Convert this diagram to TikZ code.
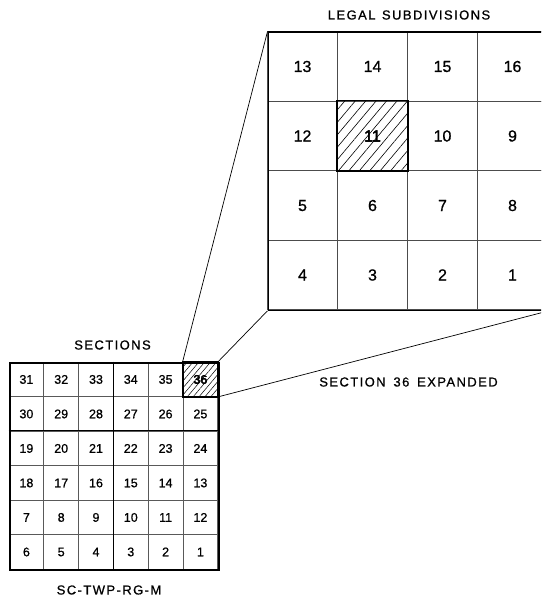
\documentclass[tikz,border=0pt]{standalone}
\usepackage{fontspec}
\usetikzlibrary{patterns.meta}
\newfontfamily\cadfont[FakeBold=0.8]{Liberation Sans}
\newfontfamily\cadwide[LetterSpace=11,FakeBold=0.8]{Liberation Sans}
\tikzset{
  scell/.style={draw=black!65, line width=0.7pt, minimum width=34.8pt, minimum height=34.5pt,
    inner sep=0pt, text height=9pt, text depth=0pt, font=\cadfont\fontsize{12.5}{12.5}\selectfont},
  bcell/.style={draw=black!70, line width=0.8pt, minimum width=70pt, minimum height=69.5pt,
    inner sep=0pt, text height=11.5pt, text depth=0pt, font=\cadfont\fontsize{16}{16}\selectfont},
  frame/.style={draw=black, line width=1.8pt, inner sep=0pt},
  bigframe/.style={draw=black, line width=1.3pt, inner sep=0pt},
  hilite/.style={draw=black, line width=1.8pt},
  title/.style={font=\cadwide\fontsize{13}{13}\selectfont, inner sep=0pt},
  zoomline/.style={draw=black, line width=0.7pt}
}
\begin{document}
\begin{tikzpicture}[x=1pt,y=-1pt]
\useasboundingbox (0,0) rectangle (541,599);
\clip (0,0) rectangle (541,599);
\fill[white] (0,0) rectangle (541,599);
% small grid of sections
\foreach \row [count=\r from 0] in {{31,32,33,34,35,36},{30,29,28,27,26,25},{19,20,21,22,23,24},{18,17,16,15,14,13},{7,8,9,10,11,12},{6,5,4,3,2,1}}{
  \foreach \n [count=\c from 0] in \row {
    \node[scell] (s\n) at ({9+34.8*(\c+0.5)},{362+34.5*(\r+0.5)}) {\n};
  }
}
\draw[black, line width=0.8pt] (s34.north west) -- (s3.south west);
\draw[black, line width=0.8pt] (s19.north west) -- (s24.north east);
\node[frame, minimum width=208.8pt, minimum height=207pt, anchor=north west] (small) at (9,362) {};
% big grid of legal subdivisions
\foreach \row [count=\r from 0] in {{13,14,15,16},{12,11,10,9},{5,6,7,8},{4,3,2,1}}{
  \foreach \n [count=\c from 0] in \row {
    \node[bcell] (b\n) at ({267.5+70*(\c+0.5)},{31.5+69.5*(\r+0.5)}) {\n};
  }
}
\node[bigframe, minimum width=280pt, minimum height=278pt, anchor=north west] (big) at (267.5,31.5) {};
% hatched highlighted cells
\path[pattern={Lines[angle=50,distance=4.5pt,line width=0.5pt]}] (s36.north west) rectangle (s36.south east);
\node[scell, draw=none] at (s36) {36};
\draw[hilite] (s36.north west) rectangle (s36.south east);
\path[pattern={Lines[angle=50,distance=8pt,line width=0.6pt]}] (b11.north west) rectangle (b11.south east);
\node[bcell, draw=none] at (b11) {11};
\draw[hilite] (b11.north west) rectangle (b11.south east);
% expansion lines
\draw[zoomline] (s36.north west) -- (big.north west);
\draw[zoomline] (s36.north east) -- (big.south west);
\draw[zoomline] (s36.south east) -- (big.south east);
% titles
\node[title] (tlegal) at (409,15) {LEGAL\hspace{0.5em}SUBDIVISIONS};
\node[title] (tsec) at (112.5,345) {SECTIONS};
\node[title] (tname) at (109,590) {SC-TWP-RG-M};
\node[title] (texp) at (408.5,382) {SECTION\hspace{0.6em}36\hspace{0.6em}EXPANDED};
\end{tikzpicture}
\end{document}
